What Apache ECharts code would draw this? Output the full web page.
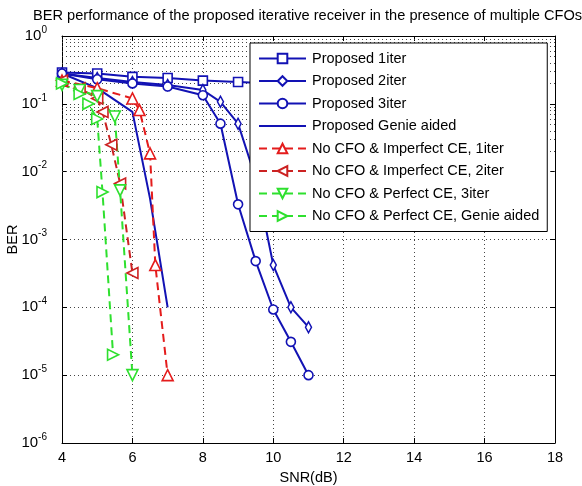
<!DOCTYPE html>
<html>
<head>
<meta charset="utf-8">
<script src="https://cdn.jsdelivr.net/npm/echarts@6/dist/echarts.min.js"></script>
<style>html,body{margin:0;padding:0;background:#fff;}#c{width:582px;height:486px;}</style>
</head>
<body>
<div id="c"></div>
<script>
// ---- data ----
const titleText = 'BER performance of the proposed iterative receiver in the presence of multiple CFOs';
const xTicks = [4, 6, 8, 10, 12, 14, 16, 18];
const yTicks = [1, 1e-1, 1e-2, 1e-3, 1e-4, 1e-5, 1e-6];
const names = [
  'Proposed 1iter',
  'Proposed 2iter',
  'Proposed 3iter',
  'Proposed Genie aided',
  'No CFO & Imperfect CE, 1iter',
  'No CFO & Imperfect CE, 2iter',
  'No CFO & Perfect CE, 3iter',
  'No CFO & Perfect CE, Genie aided'
];
const p1x = [4, 5, 6, 7, 8, 9, 10, 11, 12, 13];
const p1y = [0.29, 0.28, 0.25, 0.24, 0.22, 0.21, 0.20, 0.195, 0.19, 0.185];
const p2x = [4, 5, 6, 7, 8, 8.5, 9, 9.5, 10, 10.5, 11];
const p2y = [0.28, 0.24, 0.21, 0.19, 0.16, 0.107, 0.051, 0.008, 4.2e-4, 1.0e-4, 5.1e-5];
const p3x = [4, 5, 6, 7, 8, 8.5, 9, 9.5, 10, 10.5, 11];
const p3y = [0.28, 0.23, 0.20, 0.18, 0.134, 0.051, 3.3e-3, 4.8e-4, 9.3e-5, 3.1e-5, 1e-5];
const pgx = [4, 5, 6, 6.5, 7];
const pgy = [0.28, 0.17, 0.076, 4e-3, 1e-4];
const r1x = [4, 5, 6, 6.2, 6.5, 6.65, 7];
const r1y = [0.22, 0.17, 0.12, 0.081, 0.0186, 4.2e-4, 1e-5];
const r2x = [4, 4.5, 5, 5.15, 5.4, 5.65, 6];
const r2y = [0.22, 0.17, 0.12, 0.076, 0.025, 6.7e-3, 3.2e-4];
const g3x = [4, 4.5, 5, 5.5, 5.65, 6];
const g3y = [0.19, 0.16, 0.13, 0.065, 5.3e-3, 1e-5];
const ggx = [4, 4.5, 4.75, 5, 5.15, 5.45];
const ggy = [0.2, 0.14, 0.1, 0.06, 0.005, 2e-5];
const minorMult = [2, 3, 4, 5, 6, 7, 8, 9];
const decades = [1e-6, 1e-5, 1e-4, 1e-3, 1e-2, 1e-1];

// ---- build ----
const FONT = 'Liberation Sans';
const BLUE = '#1212b4';
const RED = '#e41c1c';
const RED2 = '#cc2222';
const GREEN = '#2ee02e';
const pairs = (xs, ys) => xs.map((x, i) => [x, ys[i]]);

const minorLines = [];
decades.forEach(d => minorMult.forEach(m => minorLines.push({ yAxis: d * m })));

function mk(name, xs, ys, color, dashed, symbol, size, rot) {
  return {
    name: name, type: 'line', data: pairs(xs, ys),
    xAxisIndex: 0, yAxisIndex: 0,
    symbol: symbol || 'circle', symbolSize: size || 10, symbolRotate: rot || 0,
    showSymbol: !!symbol,
    lineStyle: { color: color, width: 2, type: dashed ? [8, 5] : 'solid' },
    itemStyle: { color: '#fff', borderColor: color, borderWidth: 1.6 },
    emphasis: { disabled: true },
    z: 3
  };
}

const series = [
  mk(names[0], p1x, p1y, BLUE, false, 'rect', 9),
  mk(names[1], p2x, p2y, BLUE, false, 'diamond', [6, 11]),
  mk(names[2], p3x, p3y, BLUE, false, 'circle', 9),
  mk(names[3], pgx, pgy, BLUE, false, null),
  mk(names[4], r1x, r1y, RED, true, 'triangle', 11, 0),
  mk(names[5], r2x, r2y, RED2, true, 'triangle', 11, 90),
  mk(names[6], g3x, g3y, GREEN, true, 'triangle', 11, 180),
  mk(names[7], ggx, ggy, GREEN, true, 'triangle', 11, -90)
];
series[0].markLine = {
  silent: true, symbol: 'none', label: { show: false },
  lineStyle: { color: '#444', width: 1, type: [1, 3] },
  data: minorLines, animation: false, z: 1
};

const legendData = names.map((n, i) => i === 3
  ? { name: n, itemStyle: { opacity: 0, color: 'rgba(0,0,0,0)', borderColor: 'rgba(0,0,0,0)' } }
  : { name: n });

const chart = echarts.init(document.getElementById('c'), null, { renderer: 'canvas' });
chart.setOption({
  animation: false,
  backgroundColor: '#fff',
  textStyle: { fontFamily: FONT },
  title: {
    text: titleText, left: 28, top: 3,
    textStyle: { fontFamily: FONT, fontSize: 14.6, fontWeight: 'normal', color: '#000' }
  },
  grid: { left: 62, right: 27, top: 36, bottom: 43, show: false, containLabel: false, outerBoundsMode: 'none' },
  legend: {
    data: legendData, orient: 'vertical', left: 250, top: 43,
    backgroundColor: '#fff', borderColor: '#000', borderWidth: 1,
    padding: [8, 8, 8, 8],
    itemWidth: 47, itemHeight: 12, itemGap: 7.5,
    textStyle: { fontFamily: FONT, fontSize: 14.5, lineHeight: 14, color: '#000', padding: [0, 0, 0, 1] },
    selectedMode: false, z: 10
  },
  xAxis: [{
    type: 'value', min: 4, max: 18, interval: 2, position: 'bottom',
    name: 'SNR(dB)', nameLocation: 'middle', nameGap: 27, nameMoveOverlap: false,
    nameTextStyle: { fontFamily: FONT, fontSize: 14.5, color: '#000' },
    axisLine: { show: true, onZero: false, lineStyle: { color: '#000', width: 1 } },
    axisTick: { show: true, inside: true, length: 5, lineStyle: { color: '#000' } },
    axisLabel: { fontFamily: FONT, fontSize: 14.5, color: '#000', margin: 7,
      formatter: v => (xTicks.indexOf(v) >= 0 ? String(v) : '') },
    splitLine: { show: true, lineStyle: { color: '#444', width: 1, type: [1, 3] } }
  }, {
    type: 'value', min: 4, max: 18, interval: 2, position: 'top',
    axisLine: { show: true, onZero: false, lineStyle: { color: '#000', width: 1 } },
    axisTick: { show: true, inside: true, length: 5, lineStyle: { color: '#000' } },
    axisLabel: { show: false }, splitLine: { show: false }
  }],
  yAxis: [{
    type: 'log', logBase: 10, min: 1e-6, max: 1, position: 'left',
    name: 'BER', nameLocation: 'middle', nameGap: 42, nameMoveOverlap: false,
    nameTextStyle: { fontFamily: FONT, fontSize: 14.5, color: '#000' },
    axisLine: { show: true, onZero: false, lineStyle: { color: '#000', width: 1 } },
    axisTick: { show: true, inside: true, length: 5, lineStyle: { color: '#000' } },
    axisLabel: {
      margin: 15, color: '#000',
      formatter: v => {
        const e = Math.round(Math.log10(v));
        return '{b|10}{s|' + e + '}';
      },
      rich: {
        b: { fontFamily: FONT, fontSize: 15, color: '#000', verticalAlign: 'middle' },
        s: { fontFamily: FONT, fontSize: 10, color: '#000', verticalAlign: 'middle', padding: [0, 0, 12, 0] }
      }
    },
    splitLine: { show: true, lineStyle: { color: '#444', width: 1, type: [1, 3] } }
  }, {
    type: 'log', logBase: 10, min: 1e-6, max: 1, position: 'right',
    axisLine: { show: true, onZero: false, lineStyle: { color: '#000', width: 1 } },
    axisTick: { show: true, inside: true, length: 5, lineStyle: { color: '#000' } },
    axisLabel: { show: false }, splitLine: { show: false }
  }],
  series: series
});
</script>
</body>
</html>
